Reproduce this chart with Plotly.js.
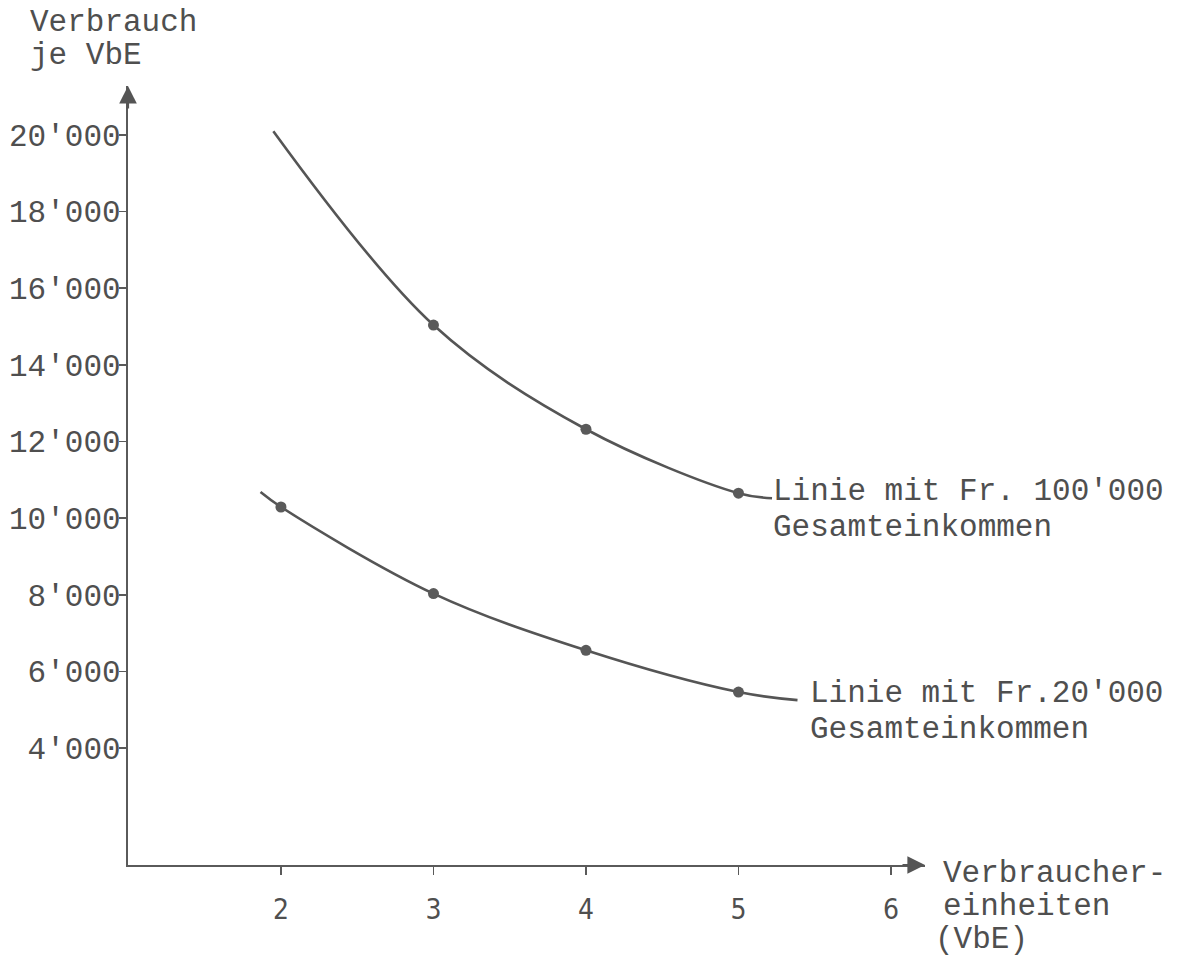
<!DOCTYPE html>
<html>
<head>
<meta charset="utf-8">
<script src="https://cdn.plot.ly/plotly-3.0.1.min.js"></script>
<style>
  html, body { margin: 0; padding: 0; background: #ffffff; }
  #chart { width: 1178px; height: 956px; }
</style>
</head>
<body>
<div id="chart"></div>
<script>
// Measured points (Verbrauchereinheiten -> Verbrauch je VbE)
const vbeHigh = [3, 4, 5];
const verbrauchHigh = [15040, 12320, 10650];
const vbeLow = [2, 3, 4, 5];
const verbrauchLow = [10290, 8030, 6550, 5460];

// Hand-drawn curves
const curveHighX = [1.95, 3, 4, 5, 5.22];
const curveHighY = [20100, 15040, 12320, 10650, 10520];
const curveLowX = [1.866, 2, 3, 4, 5, 5.387];
const curveLowY = [10680, 10290, 8030, 6550, 5460, 5250];

// Axis ticks
const xTickVals = [2, 3, 4, 5, 6];
const xTickText = ['2', '3', '4', '5', '6'];
const yTickVals = [4000, 6000, 8000, 10000, 12000, 14000, 16000, 18000, 20000];
const yTickText = ["4'000", "6'000", "8'000", "10'000", "12'000", "14'000", "16'000", "18'000", "20'000"];

const ink = '#4f4f4f';
const mono = 'Liberation Mono, Courier New, monospace';

const lineStyle = { color: '#555555', width: 2.6, shape: 'spline', smoothing: 1 };
const markerStyle = { color: '#5a5a5a', size: 11, symbol: 'circle' };

const traces = [
  { x: curveHighX, y: curveHighY, mode: 'lines', line: lineStyle, hoverinfo: 'skip', showlegend: false },
  { x: curveLowX, y: curveLowY, mode: 'lines', line: lineStyle, hoverinfo: 'skip', showlegend: false },
  { x: vbeHigh, y: verbrauchHigh, mode: 'markers', marker: markerStyle, showlegend: false },
  { x: vbeLow, y: verbrauchLow, mode: 'markers', marker: markerStyle, showlegend: false }
];

const L = 128, R = 253, T = 86, B = 91, W = 1178, H = 956;
const PW = W - L - R, PH = H - T - B;
function px(x) { return (x - L) / PW; }
function py(y) { return (H - B - y) / PH; }

function txt(text, x, y) {
  return { text: text, xref: 'paper', yref: 'paper', x: px(x), y: py(y),
           xanchor: 'left', yanchor: 'middle', showarrow: false,
           font: { family: mono, size: 31, color: ink } };
}

const annotations = [
  txt('Verbrauch', 28, 23),
  txt('je VbE', 28, 56),
  txt("Linie mit Fr. 100'000", 771, 491),
  txt('Gesamteinkommen', 771, 527),
  txt("Linie mit Fr.20'000", 808, 693),
  txt('Gesamteinkommen', 808, 729),
  txt('Verbraucher-', 941, 873),
  txt('einheiten', 941, 907),
  txt('(VbE)', 933, 939),
  // arrowheads of the axes
  { text: '', xref: 'paper', yref: 'paper', x: 0, y: 1, ax: 0, ay: 24,
    showarrow: true, arrowhead: 2, arrowsize: 1.6, arrowwidth: 2.2, arrowcolor: '#555555', standoff: 0 },
  { text: '', xref: 'paper', yref: 'paper', x: 1, y: 0, ax: -24, ay: 0,
    showarrow: true, arrowhead: 2, arrowsize: 1.6, arrowwidth: 2.2, arrowcolor: '#555555', standoff: 0 }
];

const layout = {
  width: W, height: H,
  margin: { l: L, r: R, t: T, b: B, pad: 0 },
  paper_bgcolor: '#ffffff', plot_bgcolor: '#ffffff',
  showlegend: false,
  xaxis: {
    range: [0.997, 6.223], tickvals: xTickVals, ticktext: xTickText,
    showline: true, linecolor: '#5a5a5a', linewidth: 2.2,
    ticks: 'outside', ticklen: 8, tickwidth: 1.6, tickcolor: '#5a5a5a',
    ticklabelstandoff: 10,
    showgrid: false, zeroline: false, fixedrange: true,
    tickfont: { family: 'DejaVu Sans Condensed, DejaVu Sans, sans-serif', size: 28, color: ink }
  },
  yaxis: {
    range: [946, 21279], tickvals: yTickVals, ticktext: yTickText,
    showline: true, linecolor: '#5a5a5a', linewidth: 2.2,
    ticks: 'outside', ticklen: 7, tickwidth: 1.6, tickcolor: '#5a5a5a',
    ticklabelstandoff: -8,
    showgrid: false, zeroline: false, fixedrange: true,
    tickfont: { family: mono, size: 31, color: ink }
  },
  annotations: annotations
};

Plotly.newPlot('chart', traces, layout, { displayModeBar: false, staticPlot: true });
</script>
</body>
</html>
